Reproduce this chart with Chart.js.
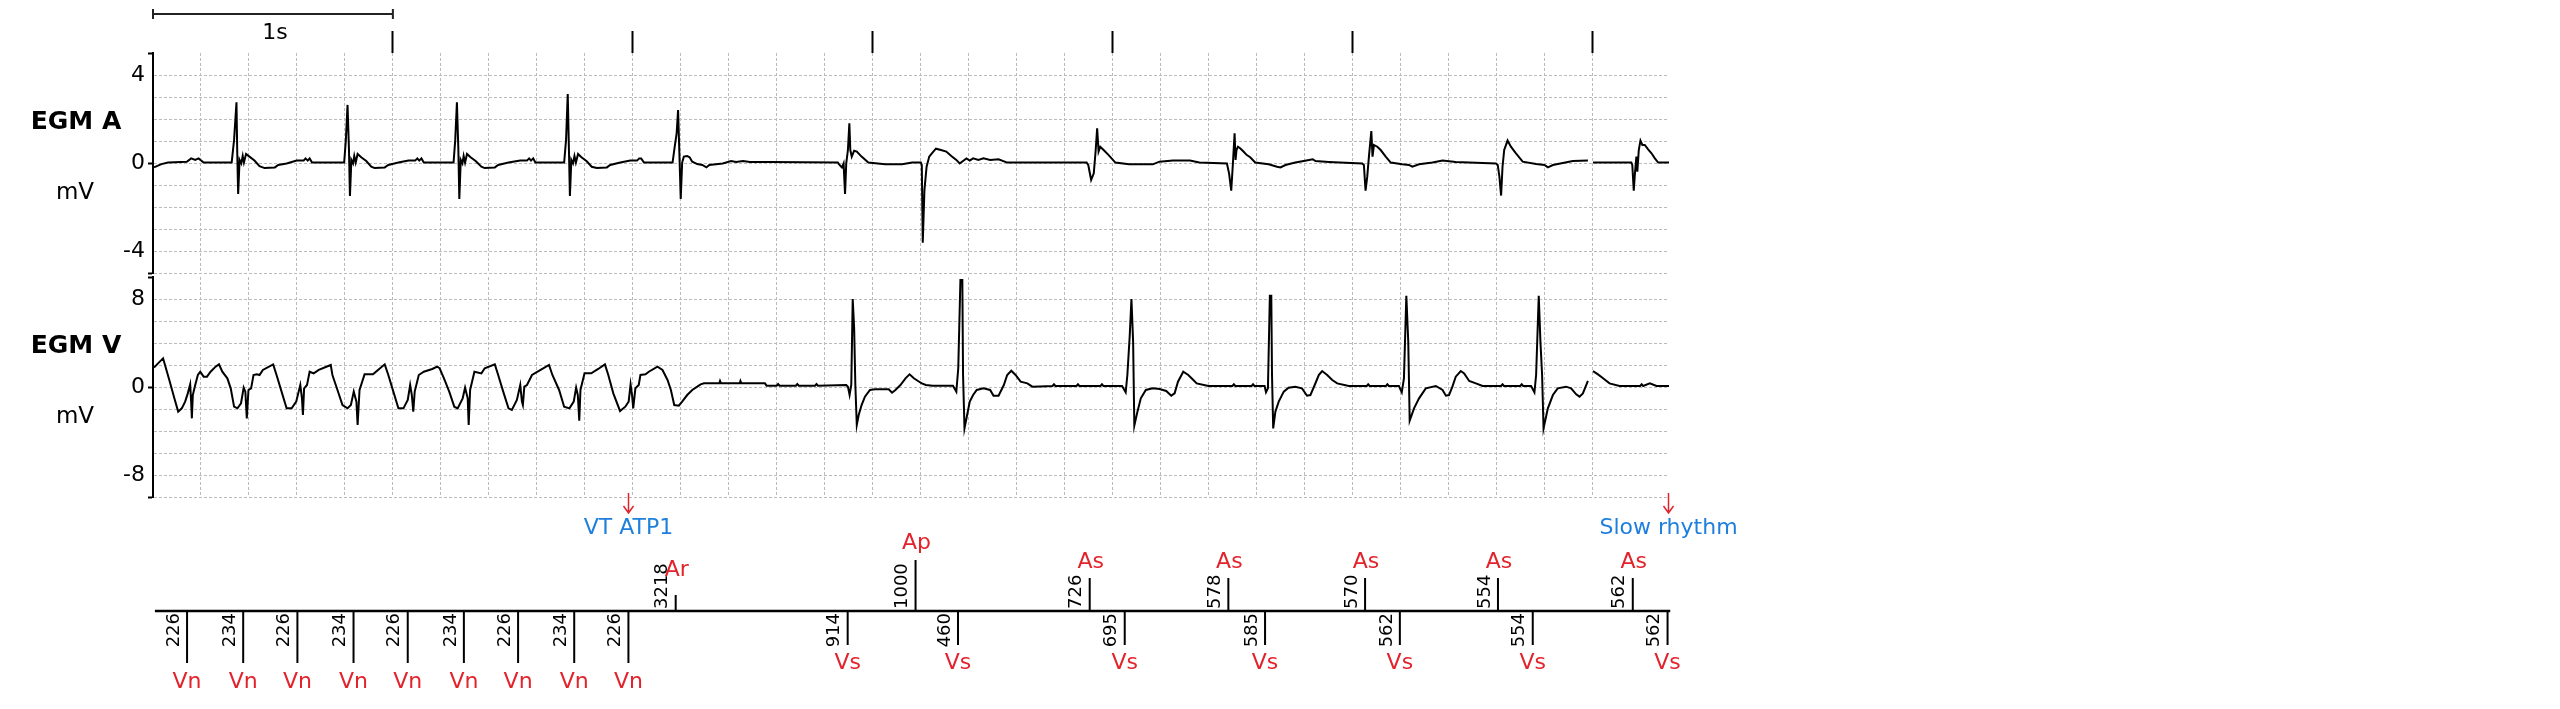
<!DOCTYPE html>
<html>
<head>
<meta charset="utf-8">
<title>EGM</title>
<script src="https://cdn.jsdelivr.net/npm/chart.js@4.4.1/dist/chart.umd.min.js"></script>
<style>
  body { margin: 0; background: #fff; }
  #wrap { position: relative; width: 2560px; height: 709px; }
  #wrap canvas { position: absolute; left: 0; top: 0; }
</style>
</head>
<body>
<div id="wrap">
  <canvas id="chartA" width="2560" height="709"></canvas>
  <canvas id="chartV" width="2560" height="709"></canvas>
  <canvas id="chartM" width="2560" height="709"></canvas>
</div>
<script>
// time in s, value in mV
const egmA = [
  [0.004,-0.20],[0.035,-0.05],[0.063,0.02],[0.141,0.06],[0.159,0.21],[0.176,0.14],[0.190,0.21],[0.211,0.02],[0.328,0.02],
  [0.338,1.05],[0.348,2.76],[0.351,0.59],[0.355,-1.41],[0.361,0.14],[0.368,-0.02],[0.374,0.32],[0.379,0.02],[0.388,0.41],[0.402,0.29],[0.423,0.11],[0.444,-0.14],[0.465,-0.23],[0.508,-0.20],[0.522,-0.09],[0.557,-0.02],[0.599,0.11],[0.628,0.11],[0.636,0.21],[0.645,0.11],[0.653,0.21],[0.663,0.02],[0.797,0.02],
  [0.804,1.05],[0.811,2.64],[0.817,0.59],[0.821,-1.50],[0.827,0.14],[0.834,-0.02],[0.839,0.32],[0.845,0.02],[0.853,0.41],[0.868,0.26],[0.889,0.09],[0.910,-0.17],[0.924,-0.23],[0.966,-0.20],[0.981,-0.09],[1.023,0.02],[1.065,0.11],[1.093,0.11],[1.102,0.21],[1.110,0.11],[1.119,0.21],[1.129,0.02],[1.253,0.02],
  [1.260,1.05],[1.267,2.76],[1.273,0.59],[1.277,-1.64],[1.283,0.14],[1.290,-0.02],[1.295,0.32],[1.301,0.02],[1.309,0.41],[1.324,0.26],[1.345,0.09],[1.369,-0.17],[1.383,-0.23],[1.425,-0.20],[1.439,-0.09],[1.482,0.02],[1.531,0.11],[1.559,0.11],[1.568,0.21],[1.576,0.11],[1.585,0.21],[1.594,0.02],[1.714,0.02],
  [1.722,1.05],[1.729,3.14],[1.734,0.59],[1.738,-1.50],[1.744,0.14],[1.751,-0.02],[1.757,0.32],[1.763,0.02],[1.772,0.41],[1.786,0.26],[1.807,0.09],[1.829,-0.17],[1.850,-0.23],[1.892,-0.20],[1.906,-0.09],[1.948,0.02],[1.990,0.11],[2.018,0.11],[2.027,0.21],[2.035,0.21],[2.047,0.02],[2.166,0.02],
  [2.175,0.74],[2.183,1.35],[2.189,2.41],[2.194,0.59],[2.200,-1.64],[2.206,0.02],[2.213,0.29],[2.227,0.32],[2.237,0.26],[2.248,0.06],[2.269,-0.05],[2.290,-0.09],[2.307,-0.20],[2.319,-0.09],[2.375,-0.02],[2.410,0.09],[2.431,0.05],[2.460,0.09],[2.488,0.05],[2.573,0.05],[2.855,0.02],
  [2.862,-0.09],[2.872,-0.20],[2.879,-0.02],[2.885,-1.41],[2.890,-0.02],[2.897,0.59],[2.903,1.80],[2.907,0.59],[2.913,0.29],[2.923,0.56],[2.934,0.52],[2.954,0.29],[2.982,0.02],[3.052,-0.06],[3.123,-0.06],[3.165,0.02],[3.201,0.02],
  [3.205,-0.09],[3.209,-3.62],[3.216,-1.23],[3.225,-0.17],[3.236,0.29],[3.247,0.44],[3.264,0.65],[3.285,0.59],[3.307,0.52],[3.328,0.32],[3.349,0.14],[3.363,-0.02],[3.391,0.21],[3.405,0.11],[3.419,0.21],[3.441,0.14],[3.462,0.21],[3.490,0.14],[3.525,0.17],[3.561,0.02],[3.892,0.02],
  [3.899,-0.09],[3.911,-0.77],[3.922,-0.47],[3.930,0.59],[3.936,1.58],[3.942,0.52],[3.949,0.74],[3.963,0.59],[3.984,0.36],[4.012,0.02],[4.069,-0.06],[4.168,-0.06],[4.196,0.06],[4.252,0.11],[4.323,0.11],[4.362,0.02],
  [4.477,-0.02],[4.486,-0.47],[4.495,-1.26],[4.502,-0.02],[4.509,1.35],[4.513,0.14],[4.517,0.59],[4.523,0.74],[4.532,0.67],[4.546,0.52],[4.560,0.36],[4.574,0.26],[4.595,0.02],[4.651,-0.06],[4.686,-0.17],[4.700,-0.20],[4.721,-0.09],[4.762,0.02],[4.797,0.09],[4.835,0.17],[4.846,0.09],[4.902,0.05],[5.041,-0.02],
  [5.048,-0.09],[5.055,-1.26],[5.062,-0.62],[5.069,0.29],[5.079,1.45],[5.084,0.29],[5.090,0.82],[5.104,0.74],[5.118,0.59],[5.139,0.29],[5.160,0.02],[5.208,-0.06],[5.236,-0.09],[5.250,-0.17],[5.278,-0.06],[5.334,0.02],[5.376,0.11],[5.431,0.05],[5.599,-0.02],
  [5.606,-0.09],[5.613,-0.62],[5.620,-1.48],[5.626,-0.17],[5.633,0.59],[5.647,1.02],[5.661,0.74],[5.682,0.44],[5.710,0.06],[5.766,-0.05],[5.801,-0.09],[5.815,-0.20],[5.836,-0.09],[5.919,0.09],[5.982,0.11],
  [5.990,null],
  [6.003,0.02],[6.163,0.02],[6.167,-0.09],[6.173,-1.26],[6.178,-0.47],[6.184,0.29],[6.188,-0.39],[6.194,0.59],[6.201,1.02],[6.209,0.82],[6.219,0.82],[6.233,0.62],[6.247,0.44],[6.261,0.21],[6.275,0.02],[6.320,0.02]
];

const egmV = [
  [0.004,1.76],[0.021,2.15],[0.042,2.61],[0.056,1.55],[0.070,0.48],[0.089,-1.03],[0.105,-2.24],[0.120,-1.94],[0.134,-1.33],[0.145,-0.58],[0.155,0.24],[0.159,-1.33],[0.162,-2.85],[0.166,-0.73],[0.176,0.18],[0.187,1.09],[0.197,1.39],[0.211,0.94],[0.225,0.94],[0.240,1.39],[0.261,1.85],[0.275,2.06],
  [0.289,1.39],[0.310,0.79],[0.324,-0.12],[0.338,-1.79],[0.352,-1.94],[0.367,-1.48],[0.378,-0.06],[0.385,-0.42],[0.391,-2.85],[0.398,-0.27],[0.409,-0.12],[0.419,1.09],[0.433,1.15],[0.444,1.09],[0.458,1.55],[0.501,2.06],
  [0.515,1.09],[0.536,-0.42],[0.557,-1.94],[0.578,-1.94],[0.597,-1.33],[0.614,0.18],[0.621,-1.03],[0.625,-2.55],[0.630,-0.12],[0.642,0.18],[0.653,1.39],[0.670,1.24],[0.691,1.55],[0.741,2.00],
  [0.748,1.09],[0.769,-0.27],[0.790,-1.64],[0.811,-1.94],[0.825,-1.64],[0.837,-0.42],[0.848,-1.33],[0.853,-3.45],[0.861,-0.27],[0.882,1.15],[0.917,1.15],[0.938,1.55],[0.966,2.06],
  [0.981,1.09],[1.002,-0.42],[1.023,-1.94],[1.044,-1.94],[1.062,-1.18],[1.072,0.18],[1.079,-0.73],[1.085,-2.24],[1.091,-0.42],[1.108,1.09],[1.129,1.39],[1.164,1.64],[1.185,1.85],[1.195,1.70],
  [1.213,0.79],[1.235,-0.42],[1.256,-1.79],[1.270,-1.94],[1.291,-1.03],[1.301,-0.06],[1.312,-1.03],[1.316,-3.45],[1.322,-0.27],[1.340,1.39],[1.369,1.24],[1.383,1.70],[1.425,2.06],
  [1.439,1.09],[1.460,-0.42],[1.482,-1.94],[1.496,-2.09],[1.517,-1.18],[1.531,0.18],[1.538,-1.33],[1.542,-1.64],[1.548,0.03],[1.559,0.18],[1.580,1.09],[1.616,1.55],[1.651,2.00],
  [1.665,1.09],[1.693,-0.27],[1.714,-1.79],[1.736,-1.94],[1.754,-1.33],[1.764,-0.06],[1.771,-0.73],[1.777,-3.06],[1.782,-0.27],[1.799,1.24],[1.827,1.24],[1.856,1.64],[1.884,2.06],
  [1.898,1.09],[1.919,-0.58],[1.947,-2.18],[1.969,-1.79],[1.983,-1.33],[1.991,0.24],[1.997,-0.73],[2.002,-1.94],[2.011,-0.12],[2.025,0.18],[2.032,1.09],[2.053,1.15],[2.067,1.39],[2.103,1.85],
  [2.124,1.55],[2.145,0.64],[2.159,-0.27],[2.173,-1.64],[2.192,-1.70],[2.206,-1.33],[2.227,-0.73],[2.248,-0.27],[2.269,0.03],[2.283,0.24],[2.297,0.33],[2.361,0.33],[2.364,0.55],[2.368,0.33],[2.446,0.33],[2.449,0.55],[2.453,0.33],[2.551,0.33],[2.558,0.12],
  [2.600,0.12],[2.606,0.27],[2.612,0.12],[2.680,0.12],[2.686,0.27],[2.692,0.12],[2.760,0.12],[2.766,0.27],[2.772,0.12],[2.890,0.18],
  [2.897,0.03],[2.904,-0.73],[2.911,0.18],[2.917,8.00],[2.923,5.33],[2.928,0.18],[2.934,-3.45],[2.942,-2.55],[2.954,-1.64],[2.968,-0.88],[2.989,-0.27],[3.010,-0.21],[3.067,-0.21],[3.081,-0.52],[3.095,-0.27],[3.116,0.18],[3.137,0.79],[3.154,1.15],[3.172,0.79],[3.194,0.48],[3.205,0.33],[3.222,0.18],[3.250,0.12],[3.335,0.12],
  [3.349,-0.42],[3.357,1.70],[3.366,9.73],[3.374,9.73],[3.377,1.09],[3.383,-3.76],[3.394,-2.55],[3.405,-1.33],[3.419,-0.73],[3.434,-0.27],[3.462,-0.12],[3.490,-0.27],[3.504,-0.79],[3.525,-0.79],[3.547,0.18],[3.561,1.09],[3.578,1.48],[3.596,1.09],[3.617,0.48],[3.645,0.33],[3.666,0.03],
  [3.750,0.09],[3.756,0.24],[3.762,0.09],[3.850,0.09],[3.856,0.24],[3.862,0.09],[3.950,0.09],[3.956,0.24],[3.962,0.09],[4.040,0.09],
  [4.055,-0.48],[4.062,1.09],[4.072,4.73],[4.079,8.00],[4.086,4.12],[4.091,-3.52],[4.104,-2.24],[4.118,-1.03],[4.139,-0.27],[4.168,-0.12],[4.196,-0.18],[4.224,-0.36],[4.245,-0.79],[4.259,-0.58],[4.273,0.48],[4.295,1.39],[4.316,1.09],[4.337,0.64],[4.351,0.33],[4.400,0.09],
  [4.500,0.09],[4.506,0.24],[4.512,0.09],[4.580,0.09],[4.586,0.24],[4.592,0.09],[4.634,0.09],
  [4.640,-0.48],[4.648,-0.12],[4.656,8.30],[4.662,8.30],[4.665,1.09],[4.670,-3.76],[4.679,-2.24],[4.693,-1.33],[4.714,-0.42],[4.734,-0.06],[4.762,0.03],[4.790,-0.12],[4.811,-0.79],[4.825,-0.73],[4.843,0.18],[4.860,1.09],[4.874,1.45],[4.895,1.09],[4.916,0.64],[4.937,0.33],[4.985,0.09],
  [5.060,0.09],[5.066,0.24],[5.072,0.09],[5.140,0.09],[5.146,0.24],[5.152,0.09],[5.194,0.09],
  [5.206,-0.48],[5.215,0.79],[5.225,8.30],[5.233,4.12],[5.239,-3.06],[5.257,-1.94],[5.278,-1.03],[5.306,-0.12],[5.348,0.09],[5.376,-0.27],[5.390,-0.79],[5.403,-0.73],[5.417,0.03],[5.431,0.94],[5.452,1.45],[5.466,1.24],[5.487,0.55],[5.515,0.33],[5.543,0.09],
  [5.620,0.09],[5.626,0.24],[5.632,0.09],[5.700,0.09],[5.706,0.24],[5.712,0.09],[5.745,0.09],
  [5.759,-0.48],[5.766,1.09],[5.777,8.30],[5.784,4.12],[5.791,1.09],[5.797,-3.76],[5.815,-1.94],[5.836,-0.73],[5.856,-0.12],[5.891,0.03],[5.912,-0.12],[5.933,-0.67],[5.947,-0.88],[5.961,-0.58],[5.982,0.55],
  [5.990,null],
  [6.003,1.45],[6.024,1.15],[6.045,0.79],[6.072,0.33],[6.114,0.09],[6.200,0.09],[6.206,0.24],[6.212,0.09],[6.240,0.33],[6.268,0.09],[6.320,0.09]
];

// marker channel
const vEventTimes = [0.142, 0.376, 0.602, 0.836, 1.062, 1.296, 1.522, 1.756, 1.982, 2.896, 3.356, 4.051, 4.636, 5.198, 5.752, 6.314];
const vEventTypes = ['Vn','Vn','Vn','Vn','Vn','Vn','Vn','Vn','Vn','Vs','Vs','Vs','Vs','Vs','Vs','Vs'];
const vIntervals = ['226','234','226','234','226','234','226','234','226','914','460','695','585','562','554','562'];
const aEventTimes = [2.179, 3.179, 3.905, 4.483, 5.053, 5.607, 6.169];
const aEventTypes = ['Ar','Ap','As','As','As','As','As'];
const aIntervals = ['3218','1000','726','578','570','554','562'];
const noteTimes = [1.982, 6.314];
const noteTexts = ['VT ATP1', 'Slow rhythm'];

const ticksA = [4, 0, -4];
const ticksV = [8, 0, -8];
const T_MAX = 6.32;

const RED = '#e3232c';
const BLUE = '#1f7fdc';
const GRID = '#bcbcbc';
const FONT = 'DejaVu Sans';

// tick lengths / label offsets in marker-chart units (1 unit = 1 px)
const markLen = { Vn: -52, Vs: -34, Ar: 16, Ap: 51, As: 33 };
const markLabelY = { Vn: -71, Vs: -52, Ar: 41, Ap: 68, As: 49 };

Chart.defaults.font.family = FONT;
Chart.defaults.color = '#000';

const toXY = arr => arr.map(([x, y]) => ({ x, y }));
const onStep = (v, step) => Math.abs(v / step - Math.round(v / step)) < 1e-6;

function traceChart(id, data, range, step, labels, padTop, padBottom, topTicks, title) {
    const textPlugin = {
        id: 'text_' + id,
        afterDraw(chart) {
            const ctx = chart.ctx;
            const top = chart.chartArea.top;
            ctx.save();
            ctx.fillStyle = '#000';
            ctx.textAlign = 'center';
            ctx.textBaseline = 'middle';
            ctx.font = 'bold 25px "' + FONT + '"';
            ctx.fillText(title, 76, top + 69);
            ctx.font = '23px "' + FONT + '"';
            ctx.fillText('mV', 75, top + 140);

            if (topTicks) {
                // 1 s scale bar
                const xs = chart.scales.x;
                const x0 = xs.getPixelForValue(0);
                const x1 = xs.getPixelForValue(1);
                ctx.strokeStyle = '#222';
                ctx.lineWidth = 2;
                ctx.beginPath();
                ctx.moveTo(x0, 14); ctx.lineTo(x1, 14);
                ctx.moveTo(x0, 9); ctx.lineTo(x0, 19);
                ctx.moveTo(x1, 9); ctx.lineTo(x1, 19);
                ctx.stroke();
                ctx.font = '22px "' + FONT + '"';
                ctx.fillText('1s', (x0 + x1) / 2 + 2, 33);
            }
            ctx.restore();
        }
    };

    return new Chart(document.getElementById(id), {
        type: 'line',
        data: {
            datasets: [{
                data: toXY(data),
                borderColor: '#000',
                borderWidth: 2,
                pointRadius: 0,
                tension: 0,
                spanGaps: false
            }]
        },
        options: {
            responsive: false,
            animation: false,
            devicePixelRatio: 1,
            events: [],
            layout: { padding: { left: 0, right: 891, top: padTop, bottom: padBottom } },
            plugins: { legend: { display: false }, tooltip: { enabled: false } },
            scales: {
                x: {
                    type: 'linear',
                    position: 'top',
                    min: 0,
                    max: T_MAX,
                    afterFit: s => { s.height = topTicks ? 53 : 0; },
                    ticks: { display: false, stepSize: 0.2 },
                    border: { display: false, dash: [3, 2] },
                    grid: {
                        drawTicks: topTicks,
                        tickLength: 22,
                        tickWidth: 2,
                        color: c => (c.tick && c.tick.value > 0.01 && onStep(c.tick.value, 0.2)) ? GRID : 'rgba(0,0,0,0)',
                        tickColor: c => (c.tick && c.tick.value > 0.5 && onStep(c.tick.value, 1)) ? '#000' : 'rgba(0,0,0,0)'
                    }
                },
                y: {
                    min: -range,
                    max: range,
                    afterFit: s => { s.width = 153; },
                    ticks: {
                        stepSize: step,
                        autoSkip: false,
                        padding: 3,
                        font: { size: 22 },
                        color: '#000',
                        callback: v => labels.includes(v) ? String(v) : ''
                    },
                    border: { display: true, color: '#000', width: 2, dash: [3, 2] },
                    grid: {
                        tickLength: 5,
                        tickWidth: 2,
                        color: c => (c.tick && c.tick.value === range) ? 'rgba(0,0,0,0)' : GRID,
                        tickColor: c => (c.tick && (Math.abs(c.tick.value) === range || c.tick.value === 0)) ? '#000' : 'rgba(0,0,0,0)'
                    }
                }
            }
        },
        plugins: [textPlugin]
    });
}

traceChart('chartA', egmA, 5, 1, ticksA, 0, 436, true, 'EGM A');
traceChart('chartV', egmV, 10, 2, ticksV, 277, 212, false, 'EGM V');

// marker channel
const markerPlugin = {
    id: 'markerText',
    afterDraw(chart) {
        const ctx = chart.ctx;
        const xs = chart.scales.x;
        const ys = chart.scales.y;
        const base = ys.getPixelForValue(0);
        ctx.save();
        ctx.textBaseline = 'middle';

        vEventTimes.forEach((t, i) => {
            const x = xs.getPixelForValue(t);
            ctx.font = '22px "' + FONT + '"';
            ctx.fillStyle = RED;
            ctx.textAlign = 'center';
            ctx.fillText(vEventTypes[i], x, ys.getPixelForValue(markLabelY[vEventTypes[i]]));
            ctx.save();
            ctx.translate(x - 13, base + 2);
            ctx.rotate(-Math.PI / 2);
            ctx.font = '18px "' + FONT + '"';
            ctx.fillStyle = '#000';
            ctx.textAlign = 'right';
            ctx.fillText(vIntervals[i], 0, 0);
            ctx.restore();
        });

        aEventTimes.forEach((t, i) => {
            const x = xs.getPixelForValue(t);
            ctx.save();
            ctx.translate(x - 13, base - 2);
            ctx.rotate(-Math.PI / 2);
            ctx.font = '18px "' + FONT + '"';
            ctx.fillStyle = '#000';
            ctx.textAlign = 'left';
            ctx.fillText(aIntervals[i], 0, 0);
            ctx.restore();
            ctx.font = '22px "' + FONT + '"';
            ctx.fillStyle = RED;
            ctx.textAlign = 'center';
            ctx.fillText(aEventTypes[i], x + 1, ys.getPixelForValue(markLabelY[aEventTypes[i]]));
        });

        // episode notes with arrows
        noteTimes.forEach((t, i) => {
            const x = Math.round(xs.getPixelForValue(t)) + 0.5;
            ctx.strokeStyle = RED;
            ctx.lineWidth = 1.5;
            ctx.beginPath();
            ctx.moveTo(x, base - 118);
            ctx.lineTo(x, base - 98);
            ctx.moveTo(x - 5, base - 105);
            ctx.lineTo(x, base - 98);
            ctx.lineTo(x + 5, base - 105);
            ctx.stroke();
            ctx.font = '22px "' + FONT + '"';
            ctx.fillStyle = BLUE;
            ctx.textAlign = 'center';
            ctx.fillText(noteTexts[i], x, base - 83);
        });
        ctx.restore();
    }
};

const tickSegments = (times, types) => times.flatMap((t, i) => [
    { x: t, y: 0 }, { x: t, y: markLen[types[i]] }, { x: t, y: null }
]);

new Chart(document.getElementById('chartM'), {
    type: 'line',
    data: {
        datasets: [
            {
                data: [{ x: 0.008, y: 0 }, { x: 6.325, y: 0 }],
                borderColor: '#000',
                borderWidth: 2.5,
                pointRadius: 0,
                clip: false
            },
            {
                data: tickSegments(vEventTimes, vEventTypes),
                borderColor: '#000',
                borderWidth: 2,
                pointRadius: 0,
                spanGaps: false,
                clip: false
            },
            {
                data: tickSegments(aEventTimes, aEventTypes),
                borderColor: '#000',
                borderWidth: 2,
                pointRadius: 0,
                spanGaps: false,
                clip: false
            }
        ]
    },
    options: {
        responsive: false,
        animation: false,
        devicePixelRatio: 1,
        events: [],
        layout: { padding: { left: 153, right: 891, top: 511, bottom: 0 } },
        plugins: { legend: { display: false }, tooltip: { enabled: false } },
        scales: {
            x: { type: 'linear', display: false, min: 0, max: T_MAX },
            y: { display: false, min: -98, max: 100 }
        }
    },
    plugins: [markerPlugin]
});
</script>
</body>
</html>
